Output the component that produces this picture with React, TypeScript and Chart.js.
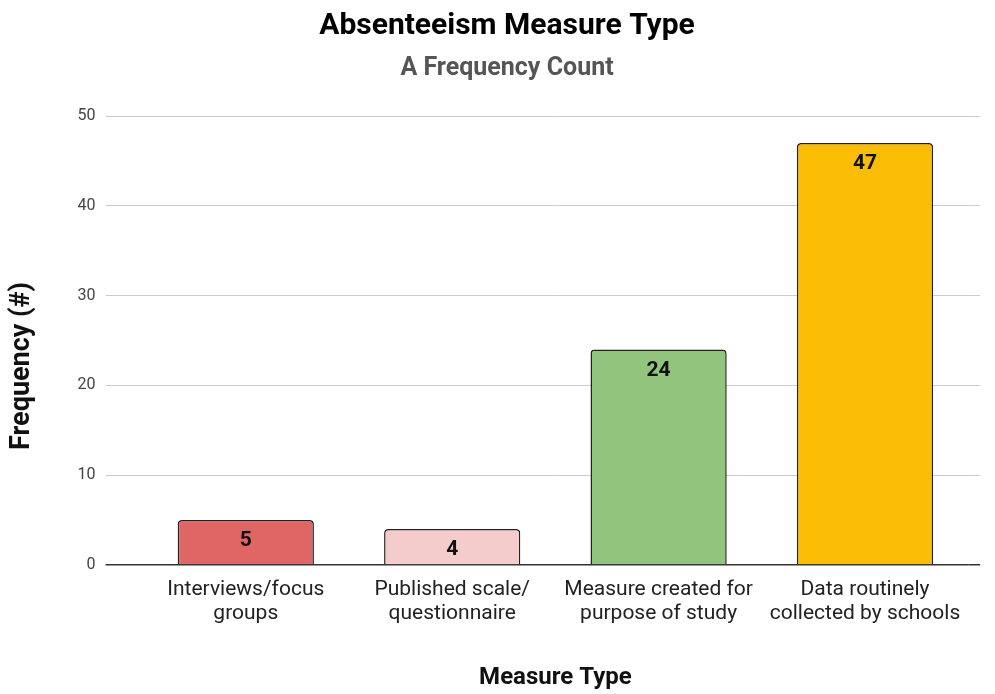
import React, { useEffect, useRef } from "react";
import { Chart, registerables } from "chart.js";

Chart.register(...registerables);

const categories: string[][] = [
  ["Interviews/focus", "groups"],
  ["Published scale/", "questionnaire"],
  ["Measure created for", "purpose of study"],
  ["Data routinely", "collected by schools"],
];
const frequencies: number[] = [5, 4, 24, 47];
const barColors: string[] = ["#E06666", "#F4CCCC", "#93C47D", "#FBBC04"];
const yTicks = { min: 0, max: 50, step: 10 };

const titleText = "Absenteeism Measure Type";
const subtitleText = "A Frequency Count";
const xTitle = "Measure Type";
const yTitle = "Frequency (#)";

const FONT = "Roboto, 'Liberation Sans', Arial, sans-serif";

const alignPx = (p: number, w: number) => Math.round(p - w / 2) + w / 2;

const gridExtend = {
  id: "gridExtend",
  beforeDatasetsDraw(chart: any) {
    const { ctx, chartArea, scales } = chart;
    const y = scales.y;
    ctx.save();
    y.ticks.forEach((t: any) => {
      const w = t.value === 0 ? 1.5 : 1;
      const py = alignPx(y.getPixelForValue(t.value), w);
      ctx.beginPath();
      ctx.strokeStyle = t.value === 0 ? "#333333" : "#cccccc";
      ctx.lineWidth = w;
      ctx.moveTo(chartArea.right, py);
      ctx.lineTo(chartArea.right + 12, py);
      ctx.stroke();
    });
    ctx.restore();
  },
};

const yTitlePlugin = {
  id: "yTitlePlugin",
  afterDraw(chart: any) {
    const { ctx, chartArea } = chart;
    ctx.save();
    ctx.translate(22, chartArea.bottom - 199);
    ctx.rotate(-Math.PI / 2);
    ctx.font = `bold 27px ${FONT}`;
    ctx.fillStyle = "#111111";
    ctx.textAlign = "center";
    ctx.textBaseline = "middle";
    ctx.fillText(yTitle, 0, 0);
    ctx.restore();
  },
};

const valueLabels = {
  id: "valueLabels",
  afterDatasetsDraw(chart: any) {
    const { ctx } = chart;
    const meta = chart.getDatasetMeta(0);
    ctx.save();
    ctx.font = `bold 21px ${FONT}`;
    ctx.fillStyle = "#111111";
    ctx.textAlign = "center";
    ctx.textBaseline = "middle";
    meta.data.forEach((el: any, i: number) => {
      ctx.fillText(String(chart.data.datasets[0].data[i]), el.x, el.y + 21);
    });
    ctx.restore();
  },
};

export default function App() {
  const ref = useRef<HTMLCanvasElement | null>(null);

  useEffect(() => {
    document.body.style.margin = "0";
    if (!ref.current) return;
    const chart = new Chart(ref.current, {
      type: "bar",
      data: {
        labels: categories,
        datasets: [
          {
            data: frequencies,
            backgroundColor: barColors,
            borderColor: "#222222",
            borderWidth: 1.5,
            borderRadius: 4,
            borderSkipped: "bottom",
            categoryPercentage: 1,
            barPercentage: 0.66,
          },
        ],
      },
      options: {
        animation: false,
        responsive: true,
        maintainAspectRatio: false,
        layout: { padding: { left: 19, right: 0, top: 0, bottom: 0 } },
        plugins: {
          legend: { display: false },
          tooltip: { enabled: false },
          title: {
            display: true,
            text: titleText,
            color: "#000000",
            font: { family: FONT, size: 30, weight: "bold", lineHeight: 1.2 },
            padding: { top: 8, bottom: 9.5 },
          },
          subtitle: {
            display: true,
            text: subtitleText,
            color: "#555555",
            font: { family: FONT, size: 25, weight: "bold", lineHeight: 1.2 },
            padding: { top: 0, bottom: 32.5 },
          },
        },
        scales: {
          x: {
            grid: { display: false },
            border: { display: false },
            ticks: {
              color: "#222222",
              font: { family: FONT, size: 21, lineHeight: 1.143 },
              padding: 5,
              maxRotation: 0,
              autoSkip: false,
            },
            title: {
              display: true,
              text: xTitle,
              color: "#111111",
              font: { family: FONT, size: 24, weight: "bold", lineHeight: 1.2 },
              padding: { top: 0, bottom: 2 },
            },
            afterFit(scale: any) {
              scale.height = 129;
            },
          },
          y: {
            min: yTicks.min,
            max: yTicks.max,
            grid: {
              color: (c: any) => (c.tick && c.tick.value === 0 ? "#333333" : "#cccccc"),
              lineWidth: (c: any) => (c.tick && c.tick.value === 0 ? 1.5 : 1),
              drawTicks: true,
              tickLength: 37,
            },
            border: { display: false },
            ticks: {
              stepSize: yTicks.step,
              color: "#444444",
              font: { family: FONT, size: 16 },
              padding: 10,
            },
            afterFit(scale: any) {
              scale.width = 142.6 - 19;
            },
          },
          yPad: {
            type: "linear",
            position: "right",
            display: true,
            grid: { display: false },
            border: { display: false },
            ticks: { display: false },
            afterFit(scale: any) {
              scale.width = 26.8;
            },
          },
        },
      },
      plugins: [gridExtend, valueLabels, yTitlePlugin],
    });
    return () => chart.destroy();
  }, []);

  return (
    <div style={{ position: "relative", width: 995, height: 694 }}>
      <canvas ref={ref} />
    </div>
  );
}
